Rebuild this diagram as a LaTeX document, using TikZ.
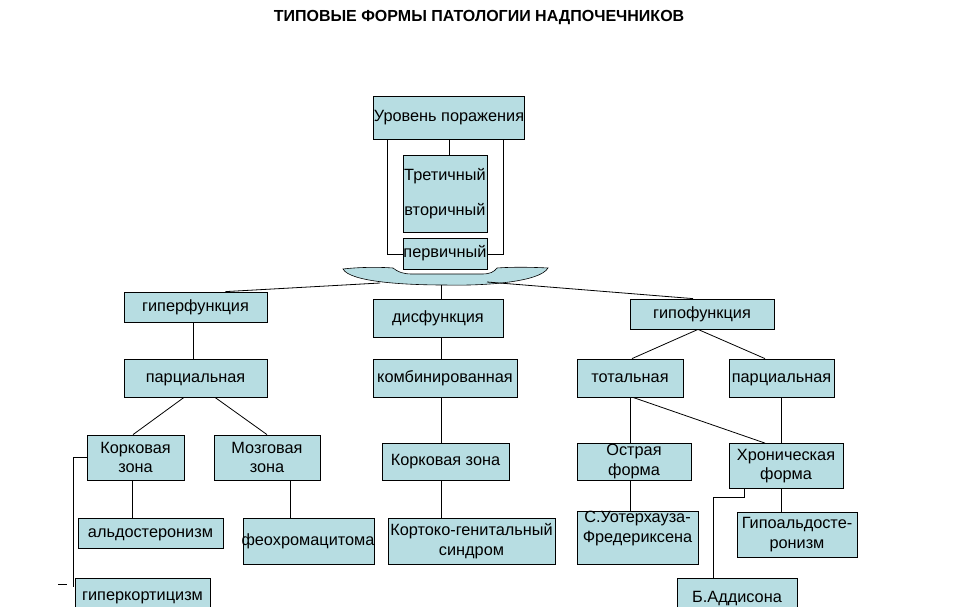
\documentclass[tikz,border=0pt]{standalone}
\usepackage{fontspec}
\setmainfont{Liberation Sans}
\definecolor{boxfill}{RGB}{183,221,226}
\tikzset{
  bx/.style={draw=black, line width=0.8pt, fill=boxfill, inner sep=0pt, align=center, font=\fontsize{16.3}{19.5}\selectfont},
  one/.style={text height=11.7pt, text depth=3.5pt},
  ln/.style={draw=black, line width=0.8pt}
}
\begin{document}
\begin{tikzpicture}[x=1pt,y=-1pt]
\useasboundingbox (0,0) rectangle (959,606);
\clip (0,0) rectangle (959,606);
\fill[white] (0,0) rectangle (959,606);

\node[font=\bfseries\fontsize{16}{19}\selectfont] (title) at (479,18) {ТИПОВЫЕ ФОРМЫ ПАТОЛОГИИ НАДПОЧЕЧНИКОВ};

% bowl
\filldraw[fill=boxfill, draw=black, line width=0.6pt]
  (343,269) .. controls (360,267) and (380,267) .. (393,268) .. controls (398,272) and (403,274) .. (412,274) -- (482,274)
  .. controls (490,274) and (494,272) .. (497,268) .. controls (510,267) and (530,267) .. (548,268)
  .. controls (540,282) and (485,286) .. (445,285)
  .. controls (405,285) and (350,282) .. (343,269) -- cycle;
\coordinate (bl) at (380,283);
\coordinate (br) at (487,282);
\coordinate (bc) at (441,285);

% top group
\node[bx, one, minimum width=150, minimum height=43] (lvl) at (449,117.5) {Уровень поражения};
\draw[ln] ([xshift=14pt]lvl.south west) |- (445,254);
\draw[ln] ([xshift=-21pt]lvl.south east) |- (445,254);
\draw[ln] (lvl.south) -- ++(0,16);
\node[bx, minimum width=84, minimum height=77] (ter) at (445,193.5) {Третичный\\[16pt]вторичный};
\node[bx, one, minimum width=84, minimum height=31] (perv) at (445,253.5) {первичный};

% left branch
\node[bx, one, minimum width=143, minimum height=30] (hyper) at (195.5,307) {гиперфункция};
\node[bx, one, minimum width=143, minimum height=38] (parL) at (195.5,378) {парциальная};
\node[bx, minimum width=97, minimum height=45] (korL) at (135.5,457.5) {Корковая\\зона};
\node[bx, minimum width=106, minimum height=45] (mozg) at (267,457.5) {Мозговая\\зона};
\node[bx, one, minimum width=145, minimum height=30] (aldo) at (150.5,533) {альдостеронизм};
\node[bx, one, minimum width=128, minimum height=46] (feo) at (309,541) {\hspace*{-2pt}феохромацитома};
\node[bx, one, minimum width=135, minimum height=36] (hcort) at (142.5,596) {гиперкортицизм};
\coordinate (hk) at (73,587);
\coordinate (t1) at (58,584);
\coordinate (t2) at (67,584);

\draw[ln] (bl) -- ([xshift=30pt]hyper.north);
\draw[ln] ([xshift=-2.5pt]hyper.south) -- ([xshift=-2.5pt]parL.north);
\draw[ln] ([xshift=-11.5pt]parL.south) -- ([xshift=-2.5pt]korL.north);
\draw[ln] ([xshift=19.5pt]parL.south) -- (mozg.north);
\draw[ln] ([xshift=-3.5pt]korL.south) -- ([xshift=-3.5pt]korL.south |- aldo.north);
\draw[ln] ([xshift=23pt]mozg.south) -- ([xshift=23pt]mozg.south |- feo.north);
\draw[ln] (korL.west) -| (hk);
\draw[ln] (t1) -- (t2);

% center branch
\node[bx, one, minimum width=130, minimum height=38] (dys) at (438,318) {дисфункция};
\node[bx, one, minimum width=144, minimum height=38] (komb) at (445,378) {комбинированная};
\node[bx, one, minimum width=127, minimum height=37] (korC) at (445.5,461.5) {Корковая зона};
\node[bx, minimum width=167, minimum height=46] (kgs) at (471.5,541) {Кортоко-генитальный\\синдром};
\draw[ln] (bc) -- (bc |- dys.north);
\draw[ln] (bc |- dys.south) -- (bc |- komb.north);
\draw[ln] (bc |- komb.south) -- (bc |- korC.north);
\draw[ln] (bc |- korC.south) -- (bc |- kgs.north);

% right branch
\node[bx, one, minimum width=144, minimum height=30] (hypo) at (702,314) {гипофункция};
\node[bx, one, minimum width=106, minimum height=38] (tot) at (630,378) {тотальная};
\node[bx, one, minimum width=105, minimum height=38] (parR) at (781.5,378) {парциальная};
\node[bx, minimum width=114, minimum height=37] (ostr) at (634,461.5) {Острая\\форма};
\node[bx, minimum width=114, minimum height=45] (hron) at (786,466) {Хроническая\\форма};
\node[bx, minimum width=121, minimum height=52] (wat) at (637.5,538) {С.Уотерхауза-\\Фредериксена\rule[-22pt]{0pt}{0pt}};
\node[bx, minimum width=120, minimum height=45] (gald) at (797,534.5) {Гипоальдосте-\\ронизм};
\node[bx, one, minimum width=120, minimum height=40] (addis) at (737,598.5) {Б.Аддисона};

\draw[ln] (br) -- ([xshift=-9pt]hypo.north);
\draw[ln] ([xshift=-4pt]hypo.south) -- ([xshift=2pt]tot.north);
\draw[ln] ([xshift=-4pt]hypo.south) -- ([xshift=-16.5pt]parR.north);
\draw[ln] (tot.south) -- (tot.south |- ostr.north);
\draw[ln] ([xshift=3pt]tot.south) -- ([xshift=-21pt]hron.north);
\draw[ln] (tot.south |- ostr.south) -- (tot.south |- wat.north);
\draw[ln] (parR.south) -- (parR.south |- hron.north);
\draw[ln] (parR.south |- hron.south) -- (parR.south |- gald.north);
\draw[ln] ([xshift=16pt]hron.south west) -- ++(0,8) -| ([xshift=37pt]addis.north west);
\end{tikzpicture}
\end{document}
